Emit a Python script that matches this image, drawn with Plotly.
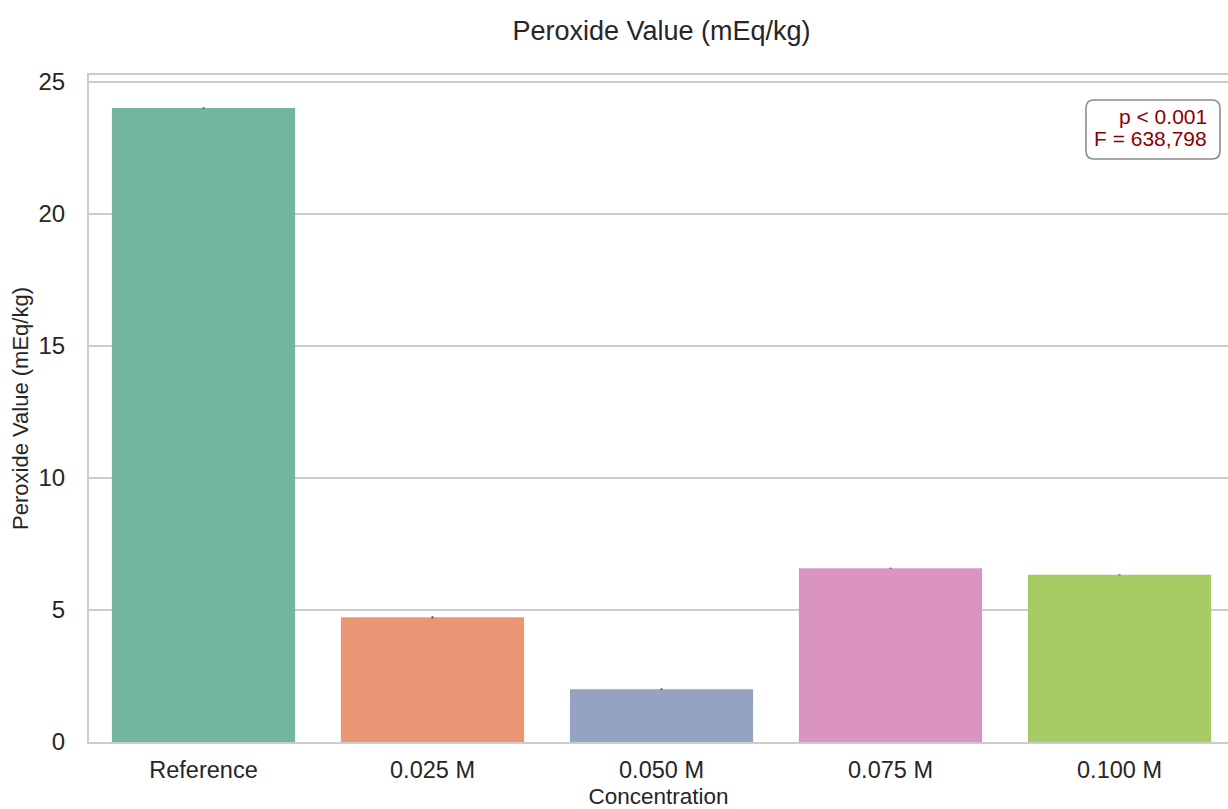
import plotly.graph_objects as go

# Peroxide value by preservative concentration
categories = ["Reference", "0.025 M", "0.050 M", "0.075 M", "0.100 M"]
peroxide_values = [24.0, 4.72, 2.0, 6.58, 6.33]
peroxide_sd = [0.03, 0.04, 0.03, 0.02, 0.02]
bar_colors = ["#72b6a1", "#e99675", "#95a3c3", "#db94c0", "#a4cb64"]

stat_lines = ["p < 0.001", "F = 638,798"]

W, H = 1228, 809
ML, MR, MT, MB = 89, 0, 75, 67
plot_w = W - ML - MR
plot_h = H - MT - MB


def px_to_paper(px, py):
    return (px - ML) / plot_w, (H - MB - py) / plot_h


fig = go.Figure()
fig.add_trace(
    go.Bar(
        x=categories,
        y=peroxide_values,
        marker=dict(color=bar_colors, line=dict(width=0)),
        error_y=dict(type="data", array=peroxide_sd, visible=True,
                     color="#555555", thickness=2, width=0),
        showlegend=False,
    )
)

# rounded box behind the statistics text
x0, y1 = px_to_paper(1086, 100)
x1, y0 = px_to_paper(1220, 159)
rx = 8 / plot_w
ry = 8 / plot_h
path = (
    f"M {x0 + rx},{y1} L {x1 - rx},{y1} Q {x1},{y1} {x1},{y1 - ry} "
    f"L {x1},{y0 + ry} Q {x1},{y0} {x1 - rx},{y0} "
    f"L {x0 + rx},{y0} Q {x0},{y0} {x0},{y0 + ry} "
    f"L {x0},{y1 - ry} Q {x0},{y1} {x0 + rx},{y1} Z"
)
fig.add_shape(type="path", path=path, xref="paper", yref="paper",
              line=dict(color="#8c8c8c", width=1.6), fillcolor="white",
              layer="above")

tx, _ = px_to_paper(1209, 0)
for line_text, py in zip(stat_lines, [117, 139]):
    _, ty = px_to_paper(0, py)
    fig.add_annotation(text=line_text, x=tx, y=ty, xref="paper", yref="paper",
                       xanchor="right", yanchor="middle", showarrow=False,
                       font=dict(size=21, color="#8b0000"))

font_family = "Arial, Liberation Sans, Helvetica, sans-serif"

fig.update_layout(
    width=W, height=H,
    margin=dict(l=ML, r=MR, t=MT, b=MB),
    paper_bgcolor="white", plot_bgcolor="white",
    bargap=0.2,
    font=dict(family=font_family, color="#262626"),
    title=dict(text="Peroxide Value (mEq/kg)", x=(ML + 1234) / 2 / W,
               xanchor="center", y=1 - 31 / H, yanchor="middle",
               yref="container", font=dict(size=27, color="#262626")),
)

fig.update_xaxes(
    range=[-0.5, 4.5 - 6 / 229],
    showgrid=False,
    showline=True, linecolor="#cccccc", linewidth=2, mirror=True,
    ticks="", tickfont=dict(size=23.5, color="#262626"),
    ticklabelstandoff=6,
    title=dict(text="Concentration", font=dict(size=22.5, color="#262626"),
               standoff=6),
)
fig.update_yaxes(
    range=[0, 25.25],
    tickvals=[0, 5, 10, 15, 20, 25],
    showgrid=True, gridcolor="#cccccc", gridwidth=1.5,
    zeroline=False,
    showline=True, linecolor="#cccccc", linewidth=2,
    ticks="", tickfont=dict(size=24, color="#262626"),
    ticklabelstandoff=17,
    title=dict(text="Peroxide Value (mEq/kg)",
               font=dict(size=22, color="#262626"), standoff=4),
)

fig.write_html("out.html")
